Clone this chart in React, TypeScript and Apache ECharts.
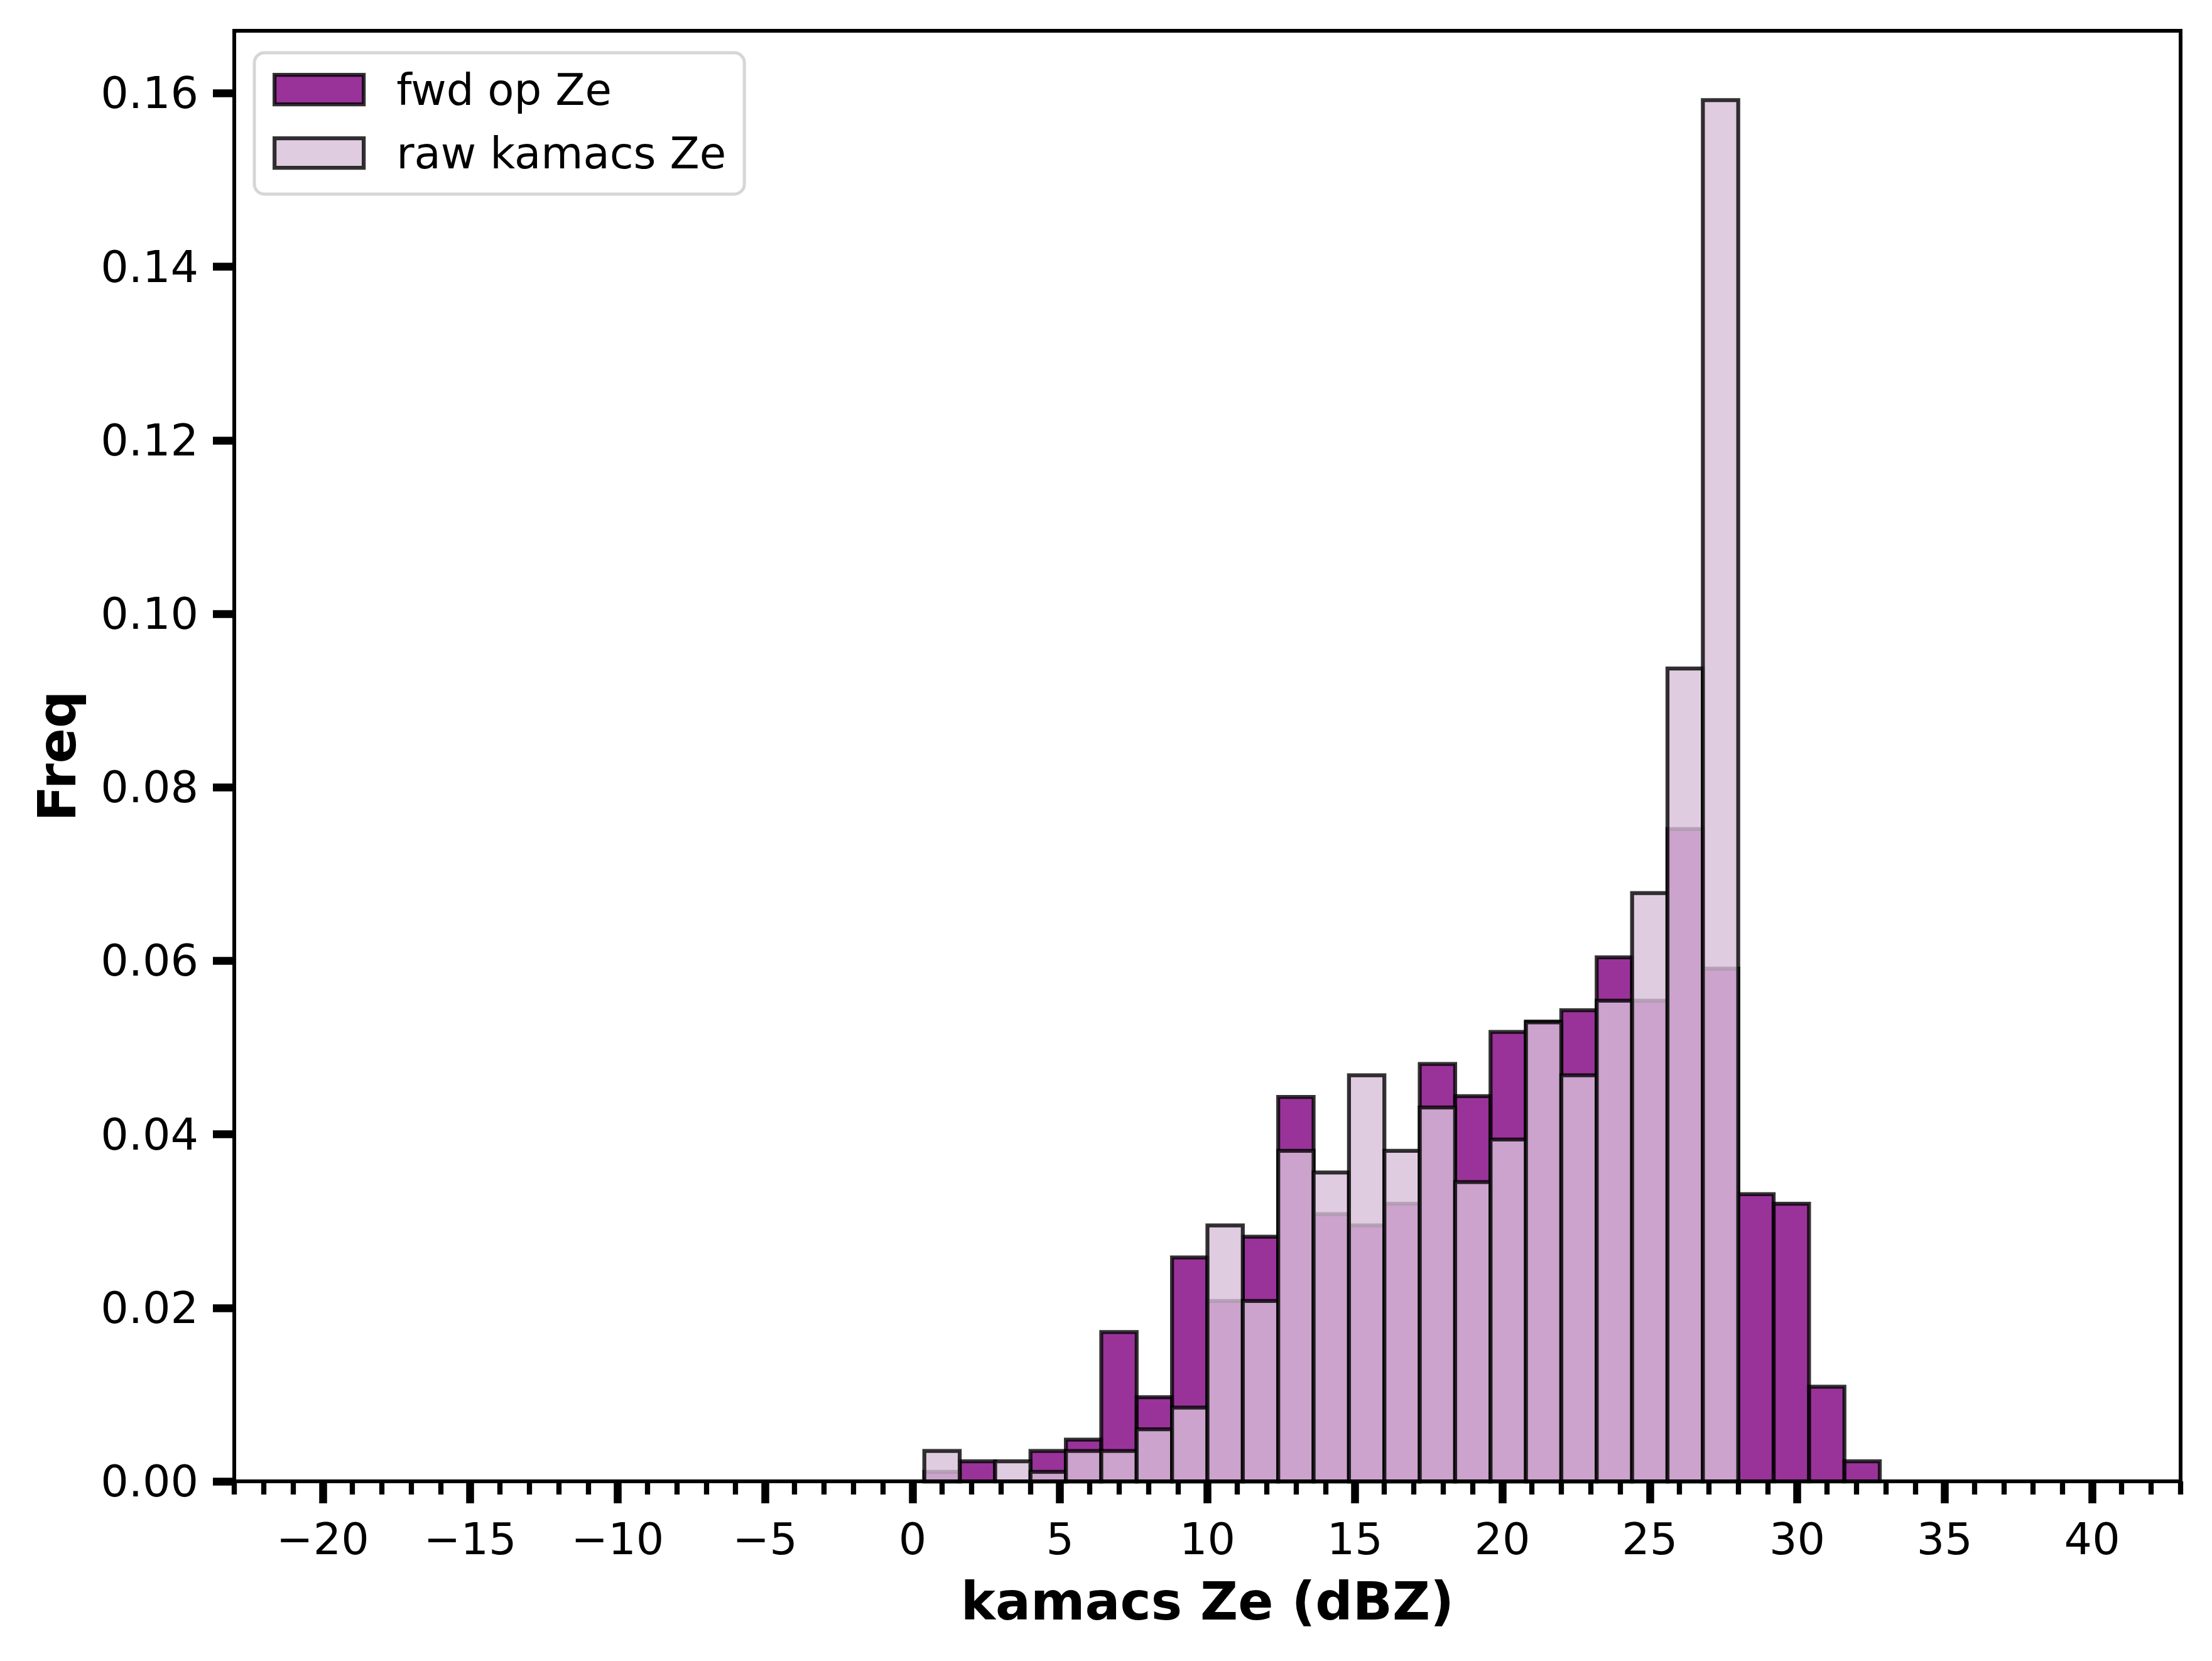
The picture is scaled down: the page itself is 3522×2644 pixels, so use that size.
import React, { useEffect, useRef } from "react";
import * as echarts from "echarts";

// Histogram bin edges (dBZ), shared by both series
const binEdges = [
  0.4, 1.6, 2.8, 4.0, 5.2, 6.4, 7.6, 8.8, 10.0, 11.2, 12.4, 13.6, 14.8, 16.0,
  17.2, 18.4, 19.6, 20.8, 22.0, 23.2, 24.4, 25.6, 26.8, 28.0, 29.2, 30.4, 31.6,
  32.8,
];

// Normalised frequency per bin
const fwdFreq = [
  0.0011, 0.0023, 0, 0.0035, 0.0048, 0.0172, 0.0097, 0.0258, 0.0208, 0.0282,
  0.0443, 0.0308, 0.0295, 0.032, 0.0481, 0.0444, 0.0518, 0.053, 0.0543, 0.0604,
  0.0554, 0.0752, 0.0591, 0.0331, 0.032, 0.0109, 0.0023,
];
const rawFreq = [
  0.0035, 0, 0.0023, 0.0011, 0.0035, 0.0035, 0.006, 0.0085, 0.0295, 0.0208,
  0.0381, 0.0356, 0.0468, 0.0381, 0.0431, 0.0345, 0.0394, 0.0529, 0.0468,
  0.0554, 0.0678, 0.0937, 0.1592, 0, 0, 0, 0,
];

const seriesNames = ["fwd op Ze", "raw kamacs Ze"];
const xMajorTicks = [-20, -15, -10, -5, 0, 5, 10, 15, 20, 25, 30, 35, 40];
const yTicks = [0, 0.02, 0.04, 0.06, 0.08, 0.1, 0.12, 0.14, 0.16];

const FONT = "DejaVu Sans";
const EDGE = "rgba(0,0,0,0.8)";
const FWD_FILL = "rgba(128,0,128,0.8)";
const RAW_FILL = "rgba(216,191,216,0.8)";
const TICK_FS = 70;
const EDGE_W = 6.25;
const SPINE_W = 6;

function toBins(freq: number[]) {
  const out: number[][] = [];
  for (let i = 0; i < freq.length; i++) {
    if (freq[i] > 0) out.push([binEdges[i], binEdges[i + 1], freq[i]]);
  }
  return out;
}

function makeRender(fill: string) {
  return (_params: any, api: any) => {
    const x0 = api.value(0);
    const x1 = api.value(1);
    const y = api.value(2);
    const p0 = api.coord([x0, 0]);
    const p1 = api.coord([x1, y]);
    return {
      type: "rect",
      shape: {
        x: p0[0],
        y: p1[1],
        width: p1[0] - p0[0],
        height: p0[1] - p1[1],
      },
      style: { fill, stroke: EDGE, lineWidth: EDGE_W },
    };
  };
}

const fmtX = (v: number) => (v < 0 ? "\u2212" + Math.abs(v) : String(v));

export default function App() {
  const ref = useRef<HTMLDivElement>(null);

  useEffect(() => {
    if (!ref.current) return;
    const chart = echarts.init(ref.current, null, { renderer: "svg" });
    chart.setOption({
      animation: false,
      backgroundColor: "#ffffff",
      grid: {
        left: 373,
        right: 50,
        top: 49,
        bottom: 286,
        show: true,
        borderColor: "#000",
        borderWidth: SPINE_W,
        backgroundColor: "transparent",
        containLabel: false,
      },
      legend: {
        orient: "vertical",
        left: 405,
        top: 84,
        padding: [24, 29, 31, 29],
        itemWidth: 142,
        itemHeight: 47,
        itemGap: 32,
        backgroundColor: "rgba(255,255,255,0.8)",
        borderColor: "#d6d6d6",
        borderWidth: 5,
        borderRadius: 16,
        selectedMode: false,
        textStyle: {
          fontFamily: FONT,
          fontSize: 69,
          color: "#000",
          padding: [0, 0, 0, 47],
        },
        data: [
          {
            name: seriesNames[0],
            icon: "rect",
            itemStyle: { color: FWD_FILL, borderColor: EDGE, borderWidth: EDGE_W },
          },
          {
            name: seriesNames[1],
            icon: "rect",
            itemStyle: { color: RAW_FILL, borderColor: EDGE, borderWidth: EDGE_W },
          },
        ],
      },
      xAxis: [
        {
          type: "value",
          min: -23,
          max: 43,
          position: "bottom",
          z: 3,
          splitLine: { show: false },
          axisLine: {
            show: true,
            onZero: false,
            lineStyle: { color: "#000", width: SPINE_W },
          },
          axisTick: {
            show: true,
            length: 35,
            customValues: xMajorTicks,
            lineStyle: { color: "#000", width: 12.5 },
          },
          axisLabel: {
            customValues: xMajorTicks,
            formatter: fmtX,
            fontFamily: FONT,
            fontSize: TICK_FS,
            color: "#000",
            margin: 57,
          },
          name: "kamacs Ze (dBZ)",
          nameLocation: "middle",
          nameGap: 150,
          nameTextStyle: {
            fontFamily: FONT,
            fontSize: 83,
            fontWeight: "bold",
            color: "#000",
          },
        },
        {
          type: "value",
          min: -23,
          max: 43,
          interval: 1,
          position: "bottom",
          z: 3,
          splitLine: { show: false },
          axisLine: { show: false, onZero: false },
          axisTick: {
            show: true,
            length: 21,
            lineStyle: { color: "#000", width: 8.3 },
          },
          axisLabel: { show: false },
        },
      ],
      yAxis: {
        type: "value",
        min: 0,
        max: 0.1672,
        position: "left",
        z: 3,
        splitLine: { show: false },
        axisLine: {
          show: true,
          onZero: false,
          lineStyle: { color: "#000", width: SPINE_W },
        },
        axisTick: {
          show: true,
          length: 34,
          customValues: yTicks,
          lineStyle: { color: "#000", width: 12.5 },
        },
        axisLabel: {
          customValues: yTicks,
          formatter: (v: number) => v.toFixed(2),
          fontFamily: FONT,
          fontSize: TICK_FS,
          color: "#000",
          margin: 57,
        },
        name: "Freq",
        nameLocation: "middle",
        nameGap: 240,
        nameRotate: 90,
        nameTextStyle: {
          fontFamily: FONT,
          fontSize: 83,
          fontWeight: "bold",
          color: "#000",
        },
      },
      series: [
        {
          type: "custom",
          name: seriesNames[0],
          xAxisIndex: 0,
          yAxisIndex: 0,
          clip: false,
          itemStyle: { color: FWD_FILL, borderColor: EDGE, borderWidth: EDGE_W },
          encode: { x: [0, 1], y: 2 },
          renderItem: makeRender(FWD_FILL),
          data: toBins(fwdFreq),
        },
        {
          type: "custom",
          name: seriesNames[1],
          xAxisIndex: 0,
          yAxisIndex: 0,
          clip: false,
          itemStyle: { color: RAW_FILL, borderColor: EDGE, borderWidth: EDGE_W },
          encode: { x: [0, 1], y: 2 },
          renderItem: makeRender(RAW_FILL),
          data: toBins(rawFreq),
        },
      ],
    });
    return () => chart.dispose();
  }, []);

  return (
    <div
      ref={ref}
      style={{
        position: "absolute",
        left: 0,
        top: 0,
        width: 3522,
        height: 2644,
        background: "#fff",
      }}
    />
  );
}
